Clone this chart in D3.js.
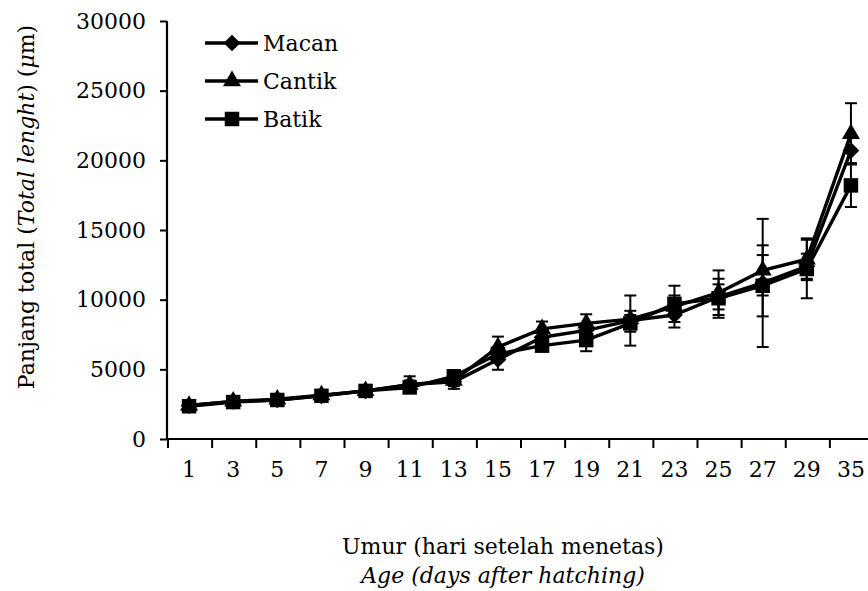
<!DOCTYPE html>
<html><head><meta charset="utf-8">
<script src="https://cdn.jsdelivr.net/npm/d3@7"></script>
<style>body{margin:0;background:#fff}svg{display:block}text{font-family:"DejaVu Serif",serif;fill:#000}</style>
</head><body><svg id="c" width="868" height="591"></svg>
<script>
const days = ["1","3","5","7","9","11","13","15","17","19","21","23","25","27","29","35"];
const macan     = [2400,2700,2800,3100,3450,3900,4100,5700,7300,7800,8500,8900,10200,11200,12400,20700];
const macanErr  = [150,150,150,200,200,300,500,730,400,400,1800,500,900,4600,900,900];
const cantik    = [2400,2700,2850,3150,3450,3900,4200,6600,7900,8300,8600,9500,10500,12100,12900,21900];
const cantikErr = [150,150,150,200,200,600,400,750,530,650,600,1500,1600,1800,1500,2200];
const batik     = [2350,2650,2800,3100,3450,3700,4500,6100,6700,7100,8300,9700,10100,11000,12200,18200];
const batikErr  = [150,150,150,200,200,300,300,500,400,800,600,600,1400,2200,2100,1550];
const yTicks = [0,5000,10000,15000,20000,25000,30000];
const seriesNames = ["Macan","Cantik","Batik"];

const FS = "22px";
const series = [
  {name:seriesNames[0], vals:macan, err:macanErr, shape:d3.symbolSquare, size:140, rot:45},
  {name:seriesNames[1], vals:cantik, err:cantikErr, shape:d3.symbolTriangle, size:140, rot:0},
  {name:seriesNames[2], vals:batik, err:batikErr, shape:d3.symbolSquare, size:210, rot:0}
];

const svg = d3.select("#c");
const x = d3.scaleBand().domain(days).range([167, 873]);
const y = d3.scaleLinear().domain([0,30000]).range([439, 21]);
const cx = d => x(d) + x.bandwidth()/2;

// axes
const yAxis = svg.append("g").attr("transform","translate(167,0)")
  .call(d3.axisLeft(y).tickValues(yTicks).tickSize(7).tickPadding(14).tickFormat(d3.format("d")));
yAxis.select(".domain").attr("stroke","#000").attr("stroke-width",2.2).attr("d","M0,21V439");
yAxis.selectAll(".tick line").attr("stroke-width",2);
yAxis.selectAll("text").style("font-size",FS).attr("font-family","DejaVu Serif");

const xAxis = svg.append("g").attr("transform","translate(0,439)")
  .call(d3.axisBottom(x).tickSize(0).tickPadding(22));
xAxis.select(".domain").attr("stroke","#000").attr("stroke-width",2.2).attr("d","M167,0H873");
xAxis.selectAll("text").style("font-size",FS).attr("font-family","DejaVu Serif");
// boundary tick marks (between categories)
svg.append("g").selectAll("line").data(days).join("line")
  .attr("x1",d=>x(d)+1).attr("x2",d=>x(d)+1).attr("y1",439).attr("y2",448)
  .attr("stroke","#000").attr("stroke-width",2);

// series
series.forEach(s => {
  const g = svg.append("g");
  const pts = days.map((d,i)=>({d, v:s.vals[i], e:s.err[i]}));
  g.append("path").datum(pts)
    .attr("d", d3.line().x(p=>cx(p.d)).y(p=>y(p.v)))
    .attr("fill","none").attr("stroke","#000").attr("stroke-width",3.4).attr("stroke-linejoin","round");
  const eb = g.selectAll("g.eb").data(pts).join("g");
  eb.append("line").attr("x1",p=>cx(p.d)).attr("x2",p=>cx(p.d))
    .attr("y1",p=>y(p.v+p.e)).attr("y2",p=>y(p.v-p.e)).attr("stroke","#000").attr("stroke-width",2);
  eb.append("line").attr("x1",p=>cx(p.d)-6).attr("x2",p=>cx(p.d)+6)
    .attr("y1",p=>y(p.v+p.e)).attr("y2",p=>y(p.v+p.e)).attr("stroke","#000").attr("stroke-width",2);
  eb.append("line").attr("x1",p=>cx(p.d)-6).attr("x2",p=>cx(p.d)+6)
    .attr("y1",p=>y(p.v-p.e)).attr("y2",p=>y(p.v-p.e)).attr("stroke","#000").attr("stroke-width",2);
  g.selectAll("path.m").data(pts).join("path").attr("class","m")
    .attr("transform",p=>`translate(${cx(p.d)},${y(p.v)}) rotate(${s.rot})`)
    .attr("d", d3.symbol().type(s.shape).size(s.size)).attr("fill","#000");
});

// legend
const lg = svg.append("g");
series.forEach((s,i)=>{
  const yy = 43 + i*38;
  lg.append("line").attr("x1",205).attr("x2",258).attr("y1",yy).attr("y2",yy).attr("stroke","#000").attr("stroke-width",3.4);
  lg.append("path").attr("transform",`translate(232,${yy}) rotate(${s.rot})`).attr("d",d3.symbol().type(s.shape).size(s.size)).attr("fill","#000");
  lg.append("text").attr("x",263).attr("y",yy+8).style("font-size",FS).text(s.name);
});

// axis titles
const yt = svg.append("text").attr("transform","translate(34,207) rotate(-90)").attr("text-anchor","middle").style("font-size",FS);
yt.append("tspan").text("Panjang total (");
yt.append("tspan").attr("font-style","italic").text("Total lenght");
yt.append("tspan").text(") (");
yt.append("tspan").attr("font-style","italic").text("μ");
yt.append("tspan").text("m)");

svg.append("text").attr("x",503).attr("y",554).attr("text-anchor","middle").style("font-size",FS).text("Umur (hari setelah menetas)");
svg.append("text").attr("x",503).attr("y",583).attr("text-anchor","middle").style("font-size",FS).attr("font-style","italic").text("Age (days after hatching)");
</script></body></html>
